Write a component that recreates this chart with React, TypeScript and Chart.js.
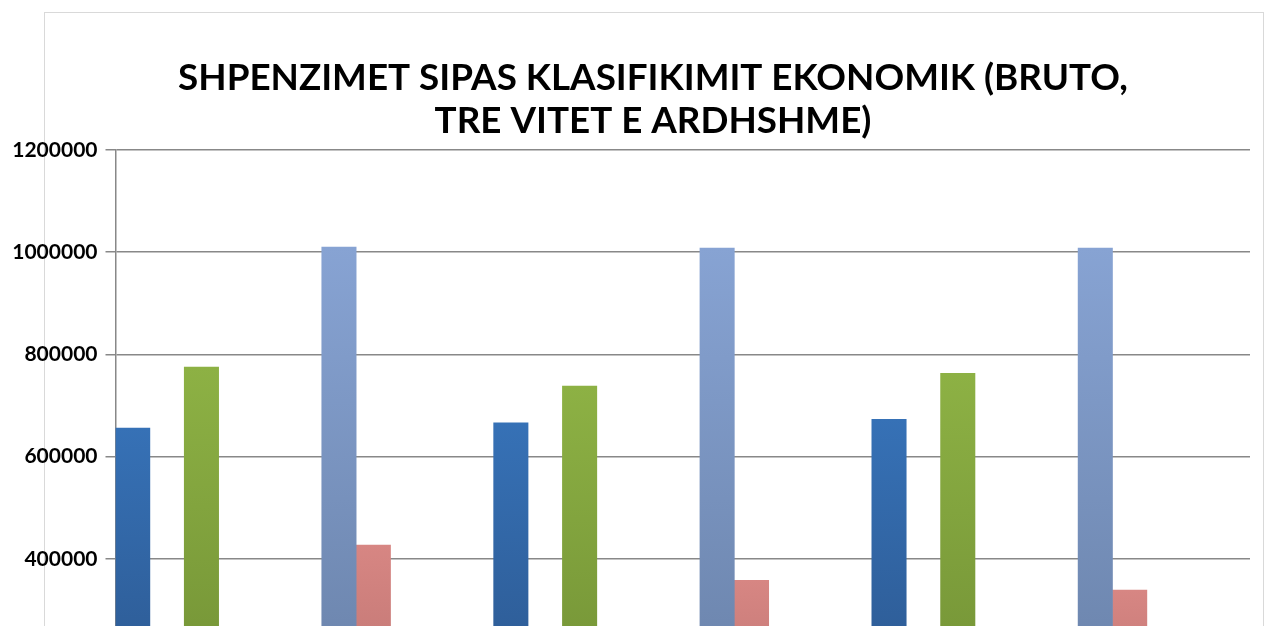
import React, { useEffect, useRef } from 'react';
import { Chart, registerables } from 'chart.js';

Chart.register(...registerables);

// ---- data ----
const CATEGORIES = ['2018', '2019', '2020'];

const TITLE_LINES = ['SHPENZIMET SIPAS KLASIFIKIMIT EKONOMIK (BRUTO,', 'TRE VITET E ARDHSHME)'];

const SERIES_NAMES = [
  'Paga',
  'Sigurime shoqërore',
  'Mallra dhe shërbime',
  'Subvencione',
  'Transferta korrente të brendshme',
  'Transferta korrente me jashtë',
  'Transferta për familjet',
  'Shpenzime kapitale',
  'Kapitale të patrupëzuara',
  'Transferta kapitale',
  'Fondi rezervë',
];

const PAGA = [656000, 666000, 673000];
const SIGURIME = [110000, 112000, 113000];
const MALLRA = [775000, 738000, 763000];
const SUBVENCIONE = [20000, 20000, 20000];
const TRANSF_BRENDSHME = [60000, 60000, 60000];
const TRANSF_JASHTE = [15000, 15000, 15000];
const TRANSF_FAMILJE = [1010000, 1008000, 1008000];
const KAPITALE = [427000, 358000, 339000];
const KAP_PATRUPEZUARA = [30000, 30000, 30000];
const TRANSF_KAPITALE = [80000, 80000, 80000];
const REZERVA = [10000, 10000, 10000];

const SERIES_VALUES = [
  PAGA, SIGURIME, MALLRA, SUBVENCIONE, TRANSF_BRENDSHME, TRANSF_JASHTE,
  TRANSF_FAMILJE, KAPITALE, KAP_PATRUPEZUARA, TRANSF_KAPITALE, REZERVA,
];

const Y_TICKS_MIN = 0;
const Y_TICKS_MAX = 1200000;
const Y_TICKS_STEP = 200000;

// gradient colours (top, bottom)
const SERIES_COLORS: [string, string][] = [
  ['#3671B6', '#2A5388'],
  ['#C0504D', '#963C3A'],
  ['#8DB144', '#6E8C33'],
  ['#8064A2', '#624C7E'],
  ['#4BACC6', '#37869B'],
  ['#F79646', '#C2722F'],
  ['#87A3D3', '#667EA4'],
  ['#D78683', '#B46E6B'],
  ['#B3CB80', '#8EA563'],
  ['#A693C0', '#8170A0'],
  ['#79C4D8', '#5A9CAE'],
];

const CANVAS_H = 830;

export default function App() {
  const ref = useRef<HTMLCanvasElement | null>(null);

  useEffect(() => {
    if (!ref.current) return;

    const framePlugin = {
      id: 'frameTitle',
      beforeDraw(chart: any) {
        const c = chart.ctx;
        c.save();
        c.strokeStyle = '#d9d9d9';
        c.lineWidth = 1;
        c.strokeRect(44.5, 12.5, 1219, CANVAS_H);
        c.restore();
      },
      afterDraw(chart: any) {
        const c = chart.ctx;
        c.save();
        c.fillStyle = '#000';
        c.font = 'bold 36.8px Lato';
        c.textAlign = 'center';
        c.textBaseline = 'alphabetic';
        const cx = 653;
        TITLE_LINES.forEach((line, i) => {
          c.fillText(line, cx, 90 + i * 43.3);
        });
        c.restore();
      },
    };

    const makeBg = (top: string, bottom: string) => (ctx: any) => {
      const chart = ctx.chart;
      const y = chart.scales && chart.scales.y;
      if (!y || ctx.type !== 'data') return top;
      const v = ctx.parsed ? ctx.parsed.y : ctx.raw;
      const yTop = y.getPixelForValue(v);
      const yBase = y.getPixelForValue(0);
      if (!isFinite(yTop) || !isFinite(yBase) || yTop === yBase) return top;
      const g = chart.ctx.createLinearGradient(0, yTop, 0, yBase);
      g.addColorStop(0, top);
      g.addColorStop(1, bottom);
      return g;
    };

    const chart = new Chart(ref.current, {
      type: 'bar',
      data: {
        labels: CATEGORIES,
        datasets: SERIES_VALUES.map((vals, i) => ({
          label: SERIES_NAMES[i],
          data: vals,
          backgroundColor: makeBg(SERIES_COLORS[i][0], SERIES_COLORS[i][1]),
          borderWidth: 0,
          categoryPercentage: 1,
          barPercentage: 1,
        })),
      },
      options: {
        animation: false,
        responsive: true,
        maintainAspectRatio: false,
        layout: { padding: { top: 150, left: 0, right: 15, bottom: 0 } },
        plugins: {
          legend: { display: false },
          title: { display: false },
          tooltip: { enabled: false },
        },
        scales: {
          x: {
            grid: { display: false },
            border: { display: false },
            ticks: { color: '#000', font: { family: 'Lato', size: 21, weight: 'bold' } },
            afterFit: (s: any) => { s.height = CANVAS_H - 763.2; },
          },
          y: {
            min: Y_TICKS_MIN,
            max: Y_TICKS_MAX,
            ticks: {
              stepSize: Y_TICKS_STEP,
              color: '#000',
              padding: 8,
              font: { family: 'Lato', size: 21, weight: 'bold' },
              callback: (v: any) => String(v),
            },
            grid: { color: '#888888', lineWidth: 1.5, tickLength: 10, drawTicks: true },
            border: { display: true, color: '#888888', width: 1.5 },
            afterFit: (s: any) => { s.width = 115.5; },
          },
        },
      },
      plugins: [framePlugin],
    });

    return () => chart.destroy();
  }, []);

  return (
    <div style={{ position: 'fixed', left: 0, top: 0, width: 1265, height: CANVAS_H }}>
      <canvas ref={ref} />
    </div>
  );
}
